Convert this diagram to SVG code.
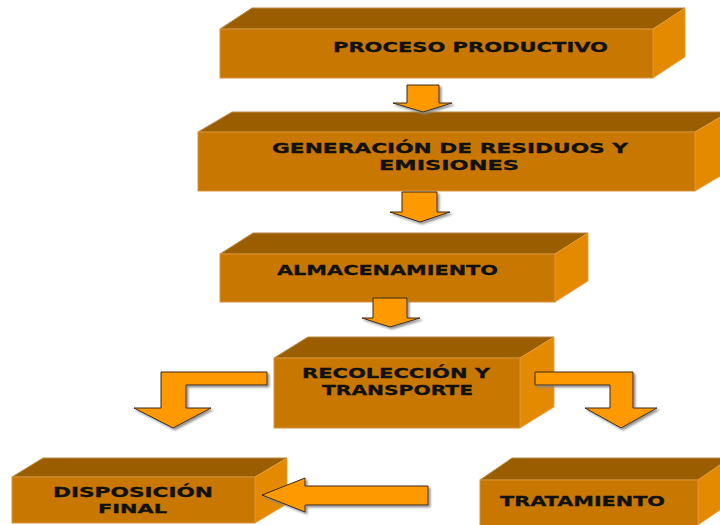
<svg xmlns="http://www.w3.org/2000/svg" width="720" height="525" viewBox="0 0 720 525">
<defs>
<style>
.top{fill:#9A5D00;stroke:#B98A45;stroke-width:1}
.side{fill:#E38A00;stroke:#E9A040;stroke-width:0.8}
.front{fill:#C87700;stroke:#D99236;stroke-width:1}
.lbl{font-family:"DejaVu Sans",Verdana,sans-serif;font-weight:bold;font-size:13.5px;fill:#111;stroke:#111;stroke-width:0.3;text-anchor:middle}
.arr{fill:#FF9900;stroke:#3A2A12;stroke-width:1;stroke-linejoin:miter;filter:url(#sh)}
</style>
<filter id="sh" x="-20%" y="-20%" width="150%" height="160%">
<feDropShadow dx="2" dy="2" stdDeviation="0.8" flood-color="#888" flood-opacity="0.9"/>
</filter>
</defs>
<rect width="720" height="525" fill="#FFFFFF"/>

<g id="proceso-productivo">
<polygon class="top" points="220,29 252,8 685,8 653,29"/>
<polygon class="side" points="653,29 685,8 685,57 653,78"/>
<rect class="front" x="220" y="29" width="433" height="49"/>
<text class="lbl" x="470.5" y="52" textLength="275" lengthAdjust="spacingAndGlyphs">PROCESO PRODUCTIVO</text>
</g>

<g id="generacion">
<polygon class="top" points="198,132 232,112 729,112 695,132"/>
<polygon class="side" points="695,132 729,112 729,171 695,191"/>
<rect class="front" x="198" y="132" width="497" height="59"/>
<text class="lbl" x="450" y="153" textLength="356" lengthAdjust="spacingAndGlyphs">GENERACIÓN DE RESIDUOS Y</text>
<text class="lbl" x="449" y="170" textLength="140" lengthAdjust="spacingAndGlyphs">EMISIONES</text>
</g>

<g id="almacenamiento">
<polygon class="top" points="220,254 253,233 588,233 555,254"/>
<polygon class="side" points="555,254 588,233 588,281 555,302"/>
<rect class="front" x="220" y="254" width="335" height="48"/>
<text class="lbl" x="387.5" y="275" textLength="221" lengthAdjust="spacingAndGlyphs">ALMACENAMIENTO</text>
</g>

<g id="recoleccion">
<polygon class="top" points="274,358 308,337 554,337 520,358"/>
<polygon class="side" points="520,358 554,337 554,407 520,428"/>
<rect class="front" x="274" y="358" width="246" height="70"/>
<text class="lbl" x="396" y="378" textLength="188" lengthAdjust="spacingAndGlyphs">RECOLECCIÓN Y</text>
<text class="lbl" x="397.5" y="395" textLength="151" lengthAdjust="spacingAndGlyphs">TRANSPORTE</text>
</g>

<g id="disposicion-final">
<polygon class="top" points="12,477 43,458 287,458 255,477"/>
<polygon class="side" points="255,477 287,458 287,504 255,523"/>
<rect class="front" x="12" y="477" width="243" height="46"/>
<text class="lbl" x="133" y="497" textLength="160" lengthAdjust="spacingAndGlyphs">DISPOSICIÓN</text>
<text class="lbl" x="132.5" y="513" textLength="69" lengthAdjust="spacingAndGlyphs" style="font-size:12px">FINAL</text>
</g>

<g id="tratamiento">
<polygon class="top" points="480,480 512,458 730,458 698,480"/>
<polygon class="side" points="698,480 730,458 730,503 698,525"/>
<rect class="front" x="480" y="480" width="218" height="46"/>
<text class="lbl" x="582.5" y="506" textLength="165" lengthAdjust="spacingAndGlyphs">TRATAMIENTO</text>
</g>

<g id="connectors">
<polygon class="arr" points="407,85 439,85 439,103 452,103 423,112 393,103 407,103"/>
<polygon class="arr" points="402,192 437,192 437,212 450,212 420,222 390,212 402,212"/>
<polygon class="arr" points="373,298 407,298 407,318 420,318 390,327 362,318 373,318"/>
<polygon class="arr" points="267,372 161,372 161,408 134,408 173,428 211,408 186,408 186,385 267,385"/>
<polygon class="arr" points="535,372 633,372 633,408 657,408 621,428 585,408 610,408 610,385 535,385"/>
<polygon class="arr" points="428,486 305,486 305,478 262,495 305,512 305,505 428,505"/>
</g>
</svg>
